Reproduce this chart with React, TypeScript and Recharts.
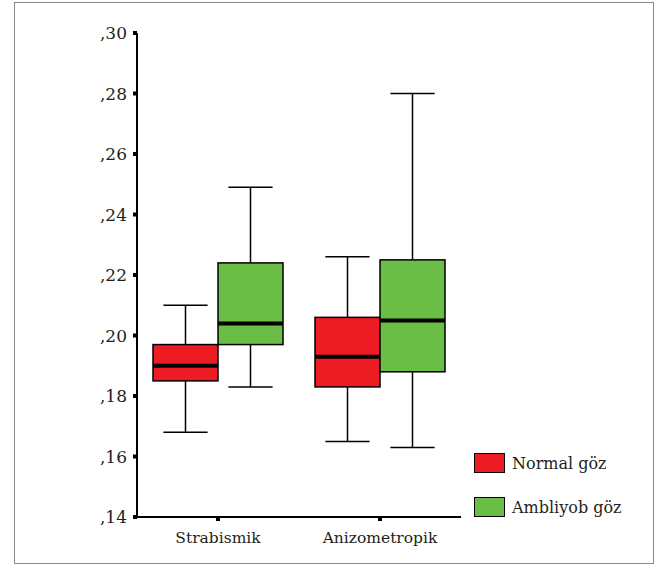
import { FC } from "react";
import { ComposedChart, Bar, XAxis, YAxis } from "recharts";

const categories = ["Strabismik", "Anizometropik"];

// Normal göz
const normalMin = [0.168, 0.165];
const normalQ1 = [0.185, 0.183];
const normalMedian = [0.19, 0.193];
const normalQ3 = [0.197, 0.206];
const normalMax = [0.21, 0.226];

// Ambliyob göz
const ambMin = [0.183, 0.163];
const ambQ1 = [0.197, 0.188];
const ambMedian = [0.204, 0.205];
const ambQ3 = [0.224, 0.225];
const ambMax = [0.249, 0.28];

const yTicks = [0.14, 0.16, 0.18, 0.2, 0.22, 0.24, 0.26, 0.28, 0.3];

const RED = "#ED1C24";
const GREEN = "#6ABD45";
const FONT = "DejaVu Serif";

const data = categories.map((name, i) => ({
  name,
  normal: { min: normalMin[i], q1: normalQ1[i], med: normalMedian[i], q3: normalQ3[i], max: normalMax[i] },
  amb: { min: ambMin[i], q1: ambQ1[i], med: ambMedian[i], q3: ambQ3[i], max: ambMax[i] },
}));

const boxShape = (key: "normal" | "amb", color: string) => (props: any) => {
  const { x, y, width, height, payload } = props;
  const s = payload[key];
  const toY = (v: number) => y + (height * (s.max - v)) / (s.max - s.min);
  const cx = x + width / 2;
  const cap = width * 0.34;
  const yMax = toY(s.max);
  const yQ3 = toY(s.q3);
  const yMed = toY(s.med);
  const yQ1 = toY(s.q1);
  const yMin = toY(s.min);
  return (
    <g>
      <line x1={cx} x2={cx} y1={yMax} y2={yQ3} stroke="#000" strokeWidth={1.5} />
      <line x1={cx} x2={cx} y1={yQ1} y2={yMin} stroke="#000" strokeWidth={1.5} />
      <line x1={cx - cap} x2={cx + cap} y1={yMax} y2={yMax} stroke="#000" strokeWidth={1.5} />
      <line x1={cx - cap} x2={cx + cap} y1={yMin} y2={yMin} stroke="#000" strokeWidth={1.5} />
      <rect x={x} y={yQ3} width={width} height={yQ1 - yQ3} fill={color} stroke="#000" strokeWidth={1.5} />
      <line x1={x} x2={x + width} y1={yMed} y2={yMed} stroke="#000" strokeWidth={4} />
    </g>
  );
};

const legendItems = [
  { label: "Normal göz", color: RED },
  { label: "Ambliyob göz", color: GREEN },
];

const App: FC = () => {
  return (
    <div style={{ position: "absolute", left: 0, top: 0, width: 659, height: 565, background: "#fff" }}>
      <div
        style={{
          position: "absolute",
          left: 14,
          top: 2,
          width: 638,
          height: 560,
          border: "1.5px solid #888",
        }}
      />
      <div style={{ position: "absolute", left: 0, top: 0 }}>
        <ComposedChart
          width={659}
          height={565}
          data={data}
          margin={{ top: 33, right: 198, bottom: 0, left: 0 }}
          barGap={0}
          barSize={65}
        >
          <XAxis
            dataKey="name"
            height={48}
            interval={0}
            axisLine={{ stroke: "#000", strokeWidth: 2 }}
            tickLine={{ stroke: "#000", strokeWidth: 4 }}
            tickSize={4}
            tickMargin={11}
            tick={{ fill: "#231f20", fontSize: 15.5, fontFamily: FONT }}
          />
          <XAxis
            xAxisId="top"
            dataKey="name"
            orientation="top"
            height={0}
            tick={false}
            tickLine={false}
            axisLine={{ stroke: "#000", strokeWidth: 2 }}
          />
          <YAxis
            width={137}
            type="number"
            domain={[0.14, 0.3]}
            ticks={yTicks}
            interval={0}
            allowDataOverflow
            tickFormatter={(v: number) => v.toFixed(2).replace("0.", ",")}
            axisLine={{ stroke: "#000", strokeWidth: 2 }}
            tickLine={{ stroke: "#000", strokeWidth: 4 }}
            tickSize={4}
            tickMargin={6}
            tick={{ fill: "#231f20", fontSize: 17, fontFamily: FONT }}
          />
          <YAxis
            yAxisId="right"
            orientation="right"
            width={0}
            type="number"
            domain={[0.14, 0.3]}
            tick={false}
            tickLine={false}
            axisLine={{ stroke: "#000", strokeWidth: 2 }}
          />
          <Bar
            dataKey={(d: any) => [d.normal.min, d.normal.max]}
            name="Normal göz"
            fill={RED}
            shape={boxShape("normal", RED)}
            isAnimationActive={false}
          />
          <Bar
            dataKey={(d: any) => [d.amb.min, d.amb.max]}
            name="Ambliyob göz"
            fill={GREEN}
            shape={boxShape("amb", GREEN)}
            isAnimationActive={false}
          />
        </ComposedChart>
      </div>
      <div
        style={{
          position: "absolute",
          left: 474,
          top: 452,
          fontFamily: FONT,
          fontSize: 16,
          color: "#231f20",
        }}
      >
        {legendItems.map((item, i) => (
          <div
            key={item.label}
            style={{ display: "flex", alignItems: "center", height: 22, marginBottom: i === 0 ? 22 : 0 }}
          >
            <div
              style={{
                width: 29,
                height: 18,
                background: item.color,
                border: "1.5px solid #000",
                marginRight: 7,
              }}
            />
            <span>{item.label}</span>
          </div>
        ))}
      </div>
    </div>
  );
};

export default App;
